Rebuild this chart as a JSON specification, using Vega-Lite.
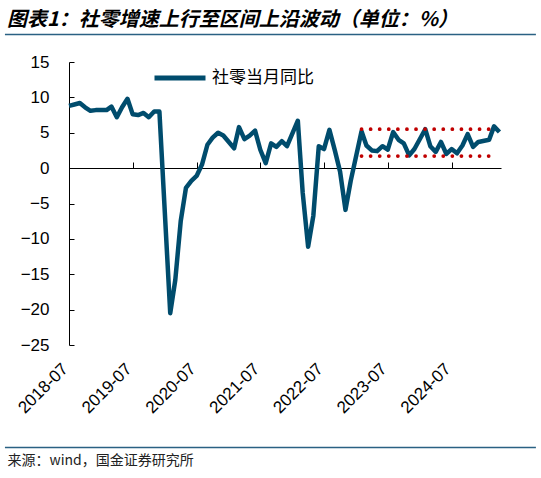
{
  "$schema": "https://vega.github.io/schema/vega-lite/v6.json",
  "autosize": {"type": "none"},
  "padding": {"left": 69, "top": 62, "right": 40, "bottom": 133},
  "width": 432,
  "height": 283,
  "background": "white",
  "title": {
    "text": "图表1：社零增速上行至区间上沿波动（单位：%）",
    "anchor": "start",
    "frame": "group",
    "font": "Noto Sans CJK SC",
    "fontSize": 20,
    "fontWeight": "bold",
    "fontStyle": "italic",
    "color": "#000",
    "dx": -62,
    "dy": 24,
    "offset": 8,
    "baseline": "bottom"
  },
  "datasets": {
    "retail": [
      {"month": "2018-07-01", "yoy": 8.8},
      {"month": "2018-08-01", "yoy": 9.0},
      {"month": "2018-09-01", "yoy": 9.2},
      {"month": "2018-10-01", "yoy": 8.6},
      {"month": "2018-11-01", "yoy": 8.1},
      {"month": "2018-12-01", "yoy": 8.2},
      {"month": "2019-02-01", "yoy": 8.2},
      {"month": "2019-03-01", "yoy": 8.7},
      {"month": "2019-04-01", "yoy": 7.2},
      {"month": "2019-05-01", "yoy": 8.6},
      {"month": "2019-06-01", "yoy": 9.8},
      {"month": "2019-07-01", "yoy": 7.6},
      {"month": "2019-08-01", "yoy": 7.5},
      {"month": "2019-09-01", "yoy": 7.8},
      {"month": "2019-10-01", "yoy": 7.2},
      {"month": "2019-11-01", "yoy": 8.0},
      {"month": "2019-12-01", "yoy": 8.0},
      {"month": "2020-02-01", "yoy": -20.5},
      {"month": "2020-03-01", "yoy": -15.8},
      {"month": "2020-04-01", "yoy": -7.5},
      {"month": "2020-05-01", "yoy": -2.8},
      {"month": "2020-06-01", "yoy": -1.8},
      {"month": "2020-07-01", "yoy": -1.1},
      {"month": "2020-08-01", "yoy": 0.5},
      {"month": "2020-09-01", "yoy": 3.3},
      {"month": "2020-10-01", "yoy": 4.3},
      {"month": "2020-11-01", "yoy": 5.0},
      {"month": "2020-12-01", "yoy": 4.6},
      {"month": "2021-02-01", "yoy": 2.8},
      {"month": "2021-03-01", "yoy": 5.8},
      {"month": "2021-04-01", "yoy": 4.1},
      {"month": "2021-05-01", "yoy": 4.6},
      {"month": "2021-06-01", "yoy": 5.3},
      {"month": "2021-07-01", "yoy": 2.6},
      {"month": "2021-08-01", "yoy": 0.7},
      {"month": "2021-09-01", "yoy": 3.5},
      {"month": "2021-10-01", "yoy": 3.0},
      {"month": "2021-11-01", "yoy": 3.8},
      {"month": "2021-12-01", "yoy": 3.1},
      {"month": "2022-02-01", "yoy": 6.7},
      {"month": "2022-03-01", "yoy": -3.5},
      {"month": "2022-04-01", "yoy": -11.1},
      {"month": "2022-05-01", "yoy": -6.7},
      {"month": "2022-06-01", "yoy": 3.1},
      {"month": "2022-07-01", "yoy": 2.7},
      {"month": "2022-08-01", "yoy": 5.4},
      {"month": "2022-09-01", "yoy": 2.5},
      {"month": "2022-10-01", "yoy": -0.5},
      {"month": "2022-11-01", "yoy": -5.9},
      {"month": "2022-12-01", "yoy": -1.8},
      {"month": "2023-02-01", "yoy": 5.2},
      {"month": "2023-03-01", "yoy": 3.2},
      {"month": "2023-04-01", "yoy": 2.5},
      {"month": "2023-05-01", "yoy": 2.4},
      {"month": "2023-06-01", "yoy": 3.1},
      {"month": "2023-07-01", "yoy": 2.6},
      {"month": "2023-08-01", "yoy": 5.1},
      {"month": "2023-09-01", "yoy": 4.0},
      {"month": "2023-10-01", "yoy": 3.5},
      {"month": "2023-11-01", "yoy": 1.8},
      {"month": "2023-12-01", "yoy": 2.7},
      {"month": "2024-02-01", "yoy": 5.5},
      {"month": "2024-03-01", "yoy": 3.1},
      {"month": "2024-04-01", "yoy": 2.3},
      {"month": "2024-05-01", "yoy": 3.7},
      {"month": "2024-06-01", "yoy": 2.0},
      {"month": "2024-07-01", "yoy": 2.7},
      {"month": "2024-08-01", "yoy": 2.1},
      {"month": "2024-09-01", "yoy": 3.2},
      {"month": "2024-10-01", "yoy": 4.8},
      {"month": "2024-11-01", "yoy": 3.0},
      {"month": "2024-12-01", "yoy": 3.7},
      {"month": "2025-02-01", "yoy": 4.0},
      {"month": "2025-03-01", "yoy": 5.9},
      {"month": "2025-04-01", "yoy": 5.1}
    ],
    "band": [
      {"start": "2023-02-01", "end": "2025-03-10", "level": 5.5},
      {"start": "2023-02-01", "end": "2025-03-10", "level": 1.7}
    ]
  },
  "layer": [
    {
      "data": {"values": [{}]},
      "mark": {"type": "rule", "color": "#2a6183", "strokeWidth": 1.5},
      "encoding": {
        "x": {
          "datum": {"year": 2017, "month": 6, "date": 29, "utc": true},
          "type": "temporal",
          "scale": {"type": "utc", "domain": [{"year": 2018, "month": 7, "date": 1, "utc": true}, {"year": 2025, "month": 4, "date": 10, "utc": true}]},
          "axis": null
        },
        "x2": {"datum": {"year": 2025, "month": 10, "date": 27, "utc": true}},
        "y": {"datum": 18.89, "type": "quantitative", "scale": {"domain": [-25, 15]}, "axis": null}
      }
    },
    {
      "data": {"values": [{}]},
      "mark": {"type": "rule", "color": "#2a6183", "strokeWidth": 1.5},
      "encoding": {
        "x": {
          "datum": {"year": 2017, "month": 6, "date": 29, "utc": true},
          "type": "temporal",
          "scale": {"type": "utc", "domain": [{"year": 2018, "month": 7, "date": 1, "utc": true}, {"year": 2025, "month": 4, "date": 10, "utc": true}]},
          "axis": null
        },
        "x2": {"datum": {"year": 2025, "month": 10, "date": 27, "utc": true}},
        "y": {"datum": -39.49, "type": "quantitative", "scale": {"domain": [-25, 15]}, "axis": null}
      }
    },
    {
      "data": {"name": "retail"},
      "mark": {"type": "line", "strokeWidth": 4.5, "strokeJoin": "round"},
      "encoding": {
        "x": {
          "field": "month",
          "type": "temporal",
          "scale": {"type": "utc", "domain": [{"year": 2018, "month": 7, "date": 1, "utc": true}, {"year": 2025, "month": 4, "date": 10, "utc": true}]},
          "axis": {
            "orient": "bottom",
            "values": [
              {"year": 2018, "month": 7, "date": 1, "utc": true},
              {"year": 2019, "month": 7, "date": 1, "utc": true},
              {"year": 2020, "month": 7, "date": 1, "utc": true},
              {"year": 2021, "month": 7, "date": 1, "utc": true},
              {"year": 2022, "month": 7, "date": 1, "utc": true},
              {"year": 2023, "month": 7, "date": 1, "utc": true},
              {"year": 2024, "month": 7, "date": 1, "utc": true}
            ],
            "format": "%Y-%m",
            "labelAngle": -45,
            "labelAlign": "right",
            "labelBaseline": "middle",
            "labelFont": "Liberation Sans",
            "labelFontSize": 17,
            "labelColor": "#000",
            "labelPadding": 21,
            "labelOffset": -4,
            "labelOverlap": false,
            "labelBound": false,
            "labelFlush": false,
            "domain": false,
            "ticks": false,
            "grid": false,
            "title": "来源：wind，国金证券研究所",
            "titleFont": "Noto Sans CJK SC",
            "titleFontSize": 14,
            "titleFontWeight": "normal",
            "titleColor": "#222",
            "titleAnchor": "start",
            "titleAlign": "left",
            "titleBaseline": "middle",
            "titleX": -62,
            "titleY": 115
          }
        },
        "y": {
          "field": "yoy",
          "type": "quantitative",
          "scale": {"domain": [-25, 15]},
          "axis": {
            "orient": "left",
            "values": [-25, -20, -15, -10, -5, 0, 5, 10, 15],
            "labelFont": "Liberation Sans",
            "labelFontSize": 17,
            "labelColor": "#000",
            "labelPadding": 25,
            "tickSize": -5,
            "tickColor": "#000",
            "domainColor": "#000",
            "grid": false,
            "title": null
          }
        },
        "color": {
          "datum": "社零当月同比",
          "type": "nominal",
          "scale": {"range": ["#004c6d"]},
          "legend": {
            "orient": "none",
            "legendX": 83,
            "legendY": -12,
            "title": null,
            "padding": 0,
            "symbolType": "stroke",
            "symbolSize": 2601,
            "symbolStrokeWidth": 5,
            "labelFont": "Noto Sans CJK SC",
            "labelFontSize": 17,
            "labelColor": "#000",
            "labelOffset": 4
          }
        }
      }
    },
    {
      "data": {"name": "band"},
      "mark": {"type": "rule", "color": "#c00000", "strokeWidth": 3.8, "strokeDash": [0.01, 9.07], "strokeCap": "round"},
      "encoding": {
        "x": {
          "field": "start",
          "type": "temporal",
          "scale": {"type": "utc", "domain": [{"year": 2018, "month": 7, "date": 1, "utc": true}, {"year": 2025, "month": 4, "date": 10, "utc": true}]},
          "axis": {
            "orient": "top",
            "offset": -106,
            "values": [
              {"year": 2019, "month": 7, "date": 1, "utc": true},
              {"year": 2020, "month": 7, "date": 1, "utc": true},
              {"year": 2021, "month": 7, "date": 1, "utc": true},
              {"year": 2022, "month": 7, "date": 1, "utc": true},
              {"year": 2023, "month": 7, "date": 1, "utc": true},
              {"year": 2024, "month": 7, "date": 1, "utc": true}
            ],
            "labels": false,
            "ticks": true,
            "tickSize": 6,
            "tickColor": "#000",
            "domain": true,
            "domainColor": "#000",
            "grid": false,
            "title": null
          }
        },
        "x2": {"field": "end"},
        "y": {"field": "level", "type": "quantitative", "scale": {"domain": [-25, 15]}, "axis": null}
      }
    }
  ],
  "resolve": {"axis": {"x": "independent", "y": "independent"}},
  "config": {
    "view": {"stroke": null}
  }
}
